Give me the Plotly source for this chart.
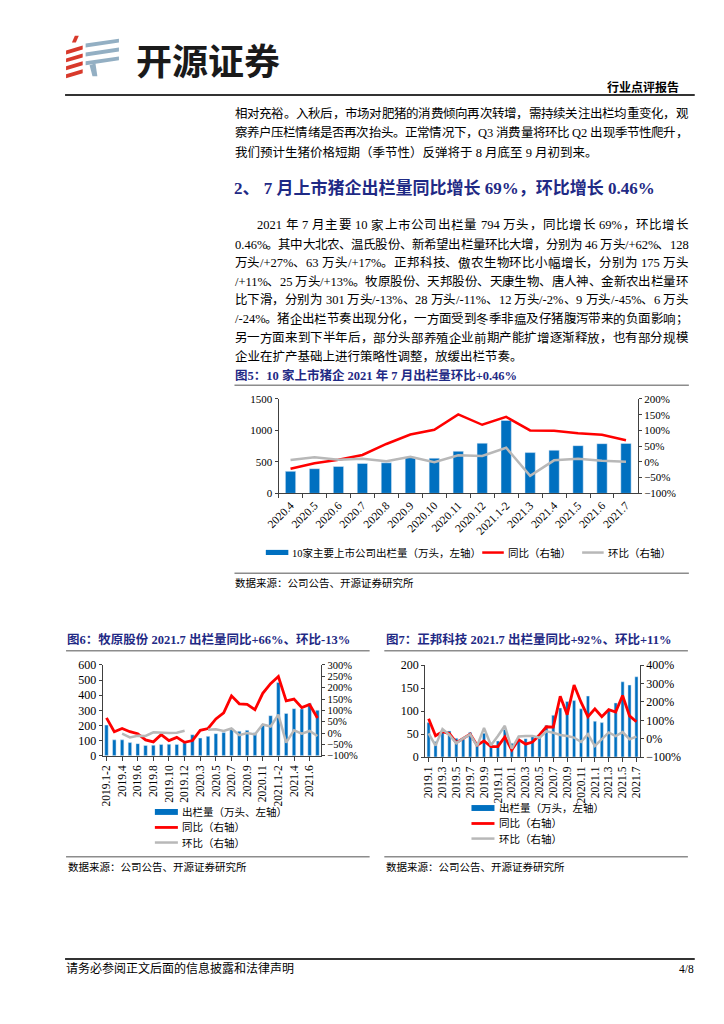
import plotly.graph_objects as go

W, H = 724, 1024
SERIF = "Liberation Serif, Noto Sans CJK SC"
NAVY = "#1F2A85"
BLUE = "#0070C0"
RED = "#FF0000"
GRAY = "#B8B8B8"
AX = "#404040"

# ---------------- data ----------------
cats5 = ["2020.4", "2020.5", "2020.6", "2020.7", "2020.8", "2020.9", "2020.10", "2020.11",
         "2020.12", "2021.1-2", "2021.3", "2021.4", "2021.5", "2021.6", "2021.7"]
vol5 = [350, 392, 428, 475, 486, 578, 559, 669, 797, 1160, 648, 685, 758, 790, 794]
yoy5 = [-22, -4, 7, 22, 57, 87, 102, 151, 118, 143, 100, 99, 91, 86, 69]
mom5 = [6, 15, 7, 10, 2, 16, -1, 21, 19, 45, -44, 5, 10, 4, 0.46]

cats6 = ["2019.1-2", "2019.3", "2019.4", "2019.5", "2019.6", "2019.7", "2019.8", "2019.9",
         "2019.10", "2019.11", "2019.12", "2020.1-2", "2020.3", "2020.4", "2020.5", "2020.6",
         "2020.7", "2020.8", "2020.9", "2020.10", "2020.11", "2020.12", "2021.1-2", "2021.3",
         "2021.4", "2021.5", "2021.6", "2021.7"]
vol6 = [203, 105, 105, 87, 80, 68, 70, 75, 76, 75, 85, 139, 117, 128, 146, 153,
        179, 162, 168, 152, 206, 265, 485, 280, 311, 309, 345, 301]
yoy6 = [67, 6, 20, 6, -3, -30, -39, -7, -33, -19, -41, -33, 12, 20, 62, 89,
        164, 129, 126, 103, 175, 218, 249, 142, 150, 112, 126, 66]
mom6 = [None, None, -3, -19, -12, -13, 3, 0, 0, 1, 10, None, None, 14, 17, 9,
        20, -9, 0, -6, 38, 29, 81, -42, 12, -3, 9, -13]
ticks6 = cats6[0:27:2]

cats7 = ["2019.1", "2019.2", "2019.3", "2019.4", "2019.5", "2019.6", "2019.7", "2019.8",
         "2019.9", "2019.10", "2019.11", "2019.12", "2020.1", "2020.2", "2020.3", "2020.4",
         "2020.5", "2020.6", "2020.7", "2020.8", "2020.9", "2020.10", "2020.11", "2020.12",
         "2021.1", "2021.2", "2021.3", "2021.4", "2021.5", "2021.6", "2021.7"]
vol7 = [75, 34, 59, 57, 41, 39, 54, 30, 52, 31, 35, 60, 30, 35, 40, 47,
        49, 69, 91, 107, 121, 123, 105, 133, 78, 75, 101, 118, 164, 157, 175]
yoy7 = [109, 16, 38, 28, -22, 0, 25, -36, -12, -43, -43, 10, -62, -5, -30, -18,
        20, 65, 63, 231, 131, 292, 199, 120, 163, 120, 158, 145, 235, 124, 92]
mom7 = [29, -38, 52, 20, -25, 2, 23, -40, 59, -36, 15, 70, -55, 12, 15, 15,
        5, 40, 32, 20, 15, 6, -18, 25, -40, -5, 34, 14, 36, -3, 11]
ticks7 = cats7[0:31:2]

# ---------------- text ----------------
para1 = [
    "相对充裕。入秋后，市场对肥猪的消费倾向再次转增，需持续关注出栏均重变化，观",
    "察养户压栏情绪是否再次抬头。正常情况下，Q3 消费量将环比 Q2 出现季节性爬升，",
    "我们预计生猪价格短期（季节性）反弹将于 8 月底至 9 月初到来。",
]
heading = "2、 7 月上市猪企出栏量同比增长 69%，环比增长 0.46%"
para2 = [
    "2021 年 7 月主要 10 家上市公司出栏量 794 万头，同比增长 69%，环比增长",
    "0.46%。其中大北农、温氏股份、新希望出栏量环比大增，分别为 46 万头/+62%、128",
    "万头/+27%、63 万头/+17%。正邦科技、傲农生物环比小幅增长，分别为 175 万头",
    "/+11%、25 万头/+13%。牧原股份、天邦股份、天康生物、唐人神、金新农出栏量环",
    "比下滑，分别为 301 万头/-13%、28 万头/-11%、12 万头/-2%、9 万头/-45%、6 万头",
    "/-24%。猪企出栏节奏出现分化，一方面受到冬季非瘟及仔猪腹泻带来的负面影响；",
    "另一方面来到下半年后，部分头部养殖企业前期产能扩增逐渐释放，也有部分规模",
    "企业在扩产基础上进行策略性调整，放缓出栏节奏。",
]
title5 = "图5：10 家上市猪企 2021 年 7 月出栏量环比+0.46%"
title6 = "图6：牧原股份 2021.7 出栏量同比+66%、环比-13%"
title7 = "图7：正邦科技 2021.7 出栏量同比+92%、环比+11%"
source = "数据来源：公司公告、开源证券研究所"
leg5 = ["10家主要上市公司出栏量（万头，左轴）", "同比（右轴）", "环比（右轴）"]
leg67 = [["出栏量（万头、左轴）", "同比（右轴）", "环比（右轴）"],
         ["出栏量（万头，左轴）", "同比（右轴）", "环比（右轴）"]]


def X(px):
    return px / W


def Y(py):
    return 1 - py / H


fig = go.Figure()

# chart 5
fig.add_trace(go.Bar(x=cats5, y=vol5, marker_color=BLUE, width=0.43, xaxis="x", yaxis="y"))
fig.add_trace(go.Scatter(x=cats5, y=yoy5, mode="lines", line=dict(color=RED, width=2.5),
                         xaxis="x", yaxis="y2"))
fig.add_trace(go.Scatter(x=cats5, y=mom5, mode="lines", line=dict(color=GRAY, width=2.5),
                         xaxis="x", yaxis="y2"))
# chart 6
fig.add_trace(go.Bar(x=cats6, y=vol6, marker_color=BLUE, width=0.45, xaxis="x2", yaxis="y3"))
fig.add_trace(go.Scatter(x=cats6, y=yoy6, mode="lines", line=dict(color=RED, width=2.8),
                         xaxis="x2", yaxis="y4"))
fig.add_trace(go.Scatter(x=cats6, y=mom6, mode="lines", line=dict(color=GRAY, width=2.5),
                         xaxis="x2", yaxis="y4", connectgaps=False))
# chart 7
fig.add_trace(go.Bar(x=cats7, y=vol7, marker_color=BLUE, width=0.45, xaxis="x3", yaxis="y5"))
fig.add_trace(go.Scatter(x=cats7, y=yoy7, mode="lines", line=dict(color=RED, width=2.8),
                         xaxis="x3", yaxis="y6"))
fig.add_trace(go.Scatter(x=cats7, y=mom7, mode="lines", line=dict(color=GRAY, width=2.5),
                         xaxis="x3", yaxis="y6"))


def xax(dom, anchor, angle, size, tickvals=None):
    d = dict(domain=[X(dom[0]), X(dom[1])], anchor=anchor, type="category",
             showline=True, linecolor=AX, linewidth=1, ticks="outside", ticklen=4,
             tickcolor=AX, tickangle=angle, showgrid=False, zeroline=False,
             tickfont=dict(family=SERIF, size=size, color="black"))
    if tickvals is not None:
        d.update(tickmode="array", tickvals=tickvals, ticktext=tickvals)
    else:
        d.update(tickson="boundaries")
    return d


def yax(dom, anchor, rng, dtick, size, right=False, overlay=None):
    d = dict(anchor=anchor, range=rng, dtick=dtick, showline=True, linecolor=AX,
             linewidth=1, ticks="outside", ticklen=3, tickcolor=AX, showgrid=False,
             zeroline=False, tickfont=dict(family=SERIF, size=size, color="black"))
    if right:
        d.update(side="right", overlaying=overlay, ticksuffix="%")
    else:
        d.update(domain=[Y(dom[1]), Y(dom[0])])
    return d


layout = dict(
    width=W, height=H, autosize=False, margin=dict(l=0, r=0, t=0, b=0),
    paper_bgcolor="white", plot_bgcolor="white", showlegend=False, bargap=0.5,
    xaxis=xax((263, 630), "y", -45, 11.5),
    yaxis=yax((389.3, 485), "x", [0, 1500], 500, 11),
    yaxis2=yax(None, "x", [-100, 200], 50, 11, right=True, overlay="y"),
    xaxis2=xax((83.3, 306.7), "y3", -90, 11.5, ticks6),
    yaxis3=yax((659, 751), "x2", [0, 600], 100, 12),
    yaxis4=yax(None, "x2", [-100, 300], 50, 10.5, right=True, overlay="y3"),
    xaxis3=xax((412.7, 632), "y5", -90, 11.5, ticks7),
    yaxis5=yax((659.3, 752.3), "x3", [0, 200], 50, 12),
    yaxis6=yax(None, "x3", [-100, 400], 100, 12, right=True, overlay="y5"),
)

ann = []
shapes = []


def txt(x, y, s, size, color="black", bold=False, anchor="left", family=SERIF):
    if bold:
        s = "<b>" + s + "</b>"
    ann.append(dict(x=X(x), y=Y(y), xref="paper", yref="paper", text=s, showarrow=False,
                    xanchor=anchor, yanchor="middle", borderpad=0,
                    font=dict(size=size, color=color, family=family)))


# Times-like advance widths (per 1000 em) for the Latin characters used
LATIN_W = {c: 500 for c in "0123456789"}
LATIN_W.update({".": 250, "%": 833, "/": 278, "+": 564, "-": 333, "Q": 722, " ": 250})


def justify(x0, x1, y, line, size):
    """Place a text line so that it fills x0..x1 (justified like the source page)."""
    units = []  # (text, width, spaces_before)
    buf, spaces = "", 0
    for ch in line:
        if ch == " ":
            if buf:
                units.append([buf, sum(LATIN_W[c] for c in buf) * size / 1000, spaces])
                buf, spaces = "", 0
            spaces += 1
        elif ord(ch) < 128:
            buf += ch
        else:
            if buf:
                units.append([buf, sum(LATIN_W[c] for c in buf) * size / 1000, spaces])
                buf, spaces = "", 0
            units.append([ch, size, spaces])
            spaces = 0
    if buf:
        units.append([buf, sum(LATIN_W[c] for c in buf) * size / 1000, spaces])
    natural = sum(u[1] + u[2] * 0.25 * size for u in units)
    gap = (x1 - x0 - natural) / max(len(units) - 1, 1)
    cx = x0
    for i, (t, w, sp) in enumerate(units):
        if i > 0:
            cx += gap + sp * 0.25 * size
        txt(cx, y, t, size)
        cx += w


def hline(x0, x1, y, color, width):
    shapes.append(dict(type="line", xref="paper", yref="paper", x0=X(x0), x1=X(x1),
                       y0=Y(y), y1=Y(y), line=dict(color=color, width=width)))


def rect(x0, x1, y0, y1, color):
    shapes.append(dict(type="rect", xref="paper", yref="paper", x0=X(x0), x1=X(x1),
                       y0=Y(y1), y1=Y(y0), fillcolor=color, line=dict(width=0)))


def poly(pts, color):
    p = "M " + " L ".join(f"{X(a):.5f},{Y(b):.5f}" for a, b in pts) + " Z"
    shapes.append(dict(type="path", xref="paper", yref="paper", path=p,
                       fillcolor=color, line=dict(width=0)))


# ---- header / logo ----
LRED = "#D8392B"
LBLUE = "#93AFC3"
poly([(55, 21), (59, 21), (56, 28), (52, 28)], LRED)
for i in range(4):
    y0 = 31 + i * 8
    poly([(46, y0 + 5), (63, y0), (63, y0 + 4), (46, y0 + 9)], LRED)
for i in range(3):
    y0 = 24 + i * 9
    poly([(66, y0 + 5), (100, y0), (100, y0 + 4), (66, y0 + 9)], LBLUE)
poly([(70, 51), (76, 49), (78, 62), (73, 62)], LBLUE)
txt(116, 45, "开源证券", 36, color="#1a1a1a", bold=True, family="Noto Sans CJK SC")
txt(673, 72, "行业点评报告", 12, bold=True, anchor="right", family="Noto Sans CJK SC")
hline(45, 688, 81, "#333333", 2)

# ---- body text ----
RIGHT = 680
ys1 = [100, 119.5, 139]
for i, line in enumerate(para1):
    if i < len(para1) - 1:
        justify(217, RIGHT, ys1[i], line, 12.5)
    else:
        txt(217, ys1[i], line, 12.5)
txt(216, 175, heading, 17, color=NAVY, bold=True)
ys2 = [213.3, 232.7, 251.7, 270.7, 289.3, 308.3, 327.7, 346.7]
for i, line in enumerate(para2):
    xs = 240 if i == 0 else 217
    if i < len(para2) - 1:
        justify(xs, RIGHT, ys2[i], line, 12.5)
    else:
        txt(xs, ys2[i], line, 12.5)

# ---- figure 5 frame ----
txt(218, 365, title5, 12.5, color=NAVY, bold=True)
hline(218, 682, 375.5, "#8C8C8C", 1.5)
rect(250, 273, 542.3, 547.5, BLUE)
txt(276, 545, leg5[0], 10.5)
hline(471, 493, 545, RED, 2.5)
txt(496, 545, leg5[1], 10.5)
hline(573, 595, 545, GRAY, 2.5)
txt(598, 545, leg5[2], 10.5)
hline(218, 682, 566, "#8C8C8C", 1.5)
txt(218, 576, source, 10.5)

# ---- figures 6 & 7 frames ----
for k, (tx, ttl, lx, ly, x0, x1) in enumerate([
        (46, title6, 136.7, 808, 46, 356),
        (372, title7, 460, 804, 371, 681)]):
    txt(tx, 633, ttl, 12.5, color=NAVY, bold=True)
    hline(x0, x1, 644.5, "#8C8C8C", 1.5)
    rect(lx, lx + 23.5, ly - 3, ly + 3, BLUE)
    txt(lx + 27, ly, leg67[k][0], 10.5)
    hline(lx, lx + 23.5, ly + 15.7, RED, 2.8)
    txt(lx + 27, ly + 15.7, leg67[k][1], 10.5)
    hline(lx, lx + 23.5, ly + 31, GRAY, 2.5)
    txt(lx + 27, ly + 31, leg67[k][2], 10.5)
    hline(x0, x1, 853.5, "#8C8C8C", 1.5)
    txt(x0 + 1, 864, source, 10.5)

# ---- footer ----
hline(45, 688, 957, "#333333", 2)
txt(45, 967, "请务必参阅正文后面的信息披露和法律声明", 12)
txt(688, 967, "4/8", 11.5, anchor="right")

layout["annotations"] = ann
layout["shapes"] = shapes
fig.update_layout(**layout)
fig.write_html("out.html")
